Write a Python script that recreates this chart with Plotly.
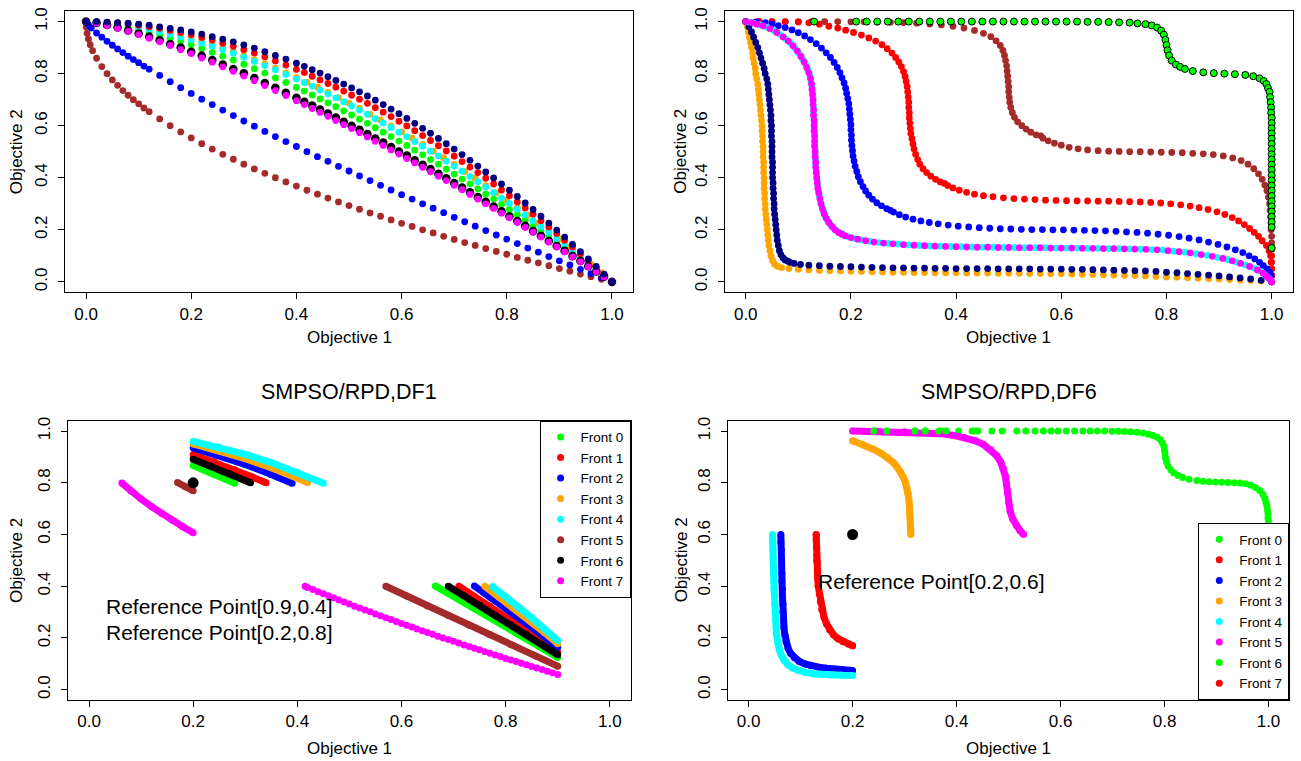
import plotly.graph_objects as go

FONT = "Liberation Sans, Arial, Helvetica, sans-serif"

# ---------------- axis ticks / texts ----------------
TICK_VALS = [0.0, 0.2, 0.4, 0.6, 0.8, 1.0]
TICK_TEXT = ["0.0", "0.2", "0.4", "0.6", "0.8", "1.0"]
AXIS_RANGE = [-0.04, 1.04]
AXIS_X_LABEL = "Objective 1"
AXIS_Y_LABEL = "Objective 2"
TITLES = ["SMPSO/RPD,DF1", "SMPSO/RPD,DF6"]
FRONT_NAMES = ["Front 0", "Front 1", "Front 2", "Front 3", "Front 4", "Front 5", "Front 6", "Front 7"]

# ---------------- top-left panel (DF1 fronts) ----------------
TL_X = [0.00, 0.02, 0.04, 0.06, 0.08, 0.10, 0.12, 0.14, 0.16, 0.18, 0.20, 0.22, 0.24, 0.26, 0.28, 0.30,
        0.32, 0.34, 0.36, 0.38, 0.40,
        0.415, 0.43, 0.445, 0.46, 0.475, 0.49, 0.505, 0.52, 0.535, 0.55, 0.565, 0.58, 0.595, 0.61,
        0.625, 0.64, 0.655, 0.67, 0.685, 0.70, 0.715, 0.73, 0.745, 0.76, 0.775, 0.79, 0.805, 0.82,
        0.835, 0.85, 0.865, 0.88, 0.895, 0.91, 0.925, 0.94, 0.955, 0.97, 0.985, 1.00]
TL_NAVY_Y = [1.000, 1.000, 0.998, 0.996, 0.994, 0.990, 0.986, 0.980, 0.974, 0.968, 0.960, 0.952, 0.942,
             0.932, 0.922, 0.910, 0.898, 0.884, 0.870, 0.856, 0.840,
             0.828, 0.815, 0.802, 0.788, 0.774, 0.760, 0.745, 0.730, 0.714, 0.698, 0.681, 0.664, 0.646,
             0.628, 0.609, 0.590, 0.571, 0.551, 0.531, 0.510, 0.489, 0.467, 0.445, 0.422, 0.399, 0.376,
             0.352, 0.328, 0.303, 0.278, 0.252, 0.226, 0.199, 0.172, 0.144, 0.116, 0.088, 0.059, 0.030,
             0.000]
TL_RED_Y = [1.000, 0.999, 0.997, 0.995, 0.991, 0.986, 0.980, 0.974, 0.966, 0.958, 0.949, 0.939, 0.929,
            0.917, 0.905, 0.892, 0.879, 0.864, 0.849, 0.833, 0.816,
            0.804, 0.790, 0.776, 0.762, 0.748, 0.733, 0.717, 0.702, 0.686, 0.669, 0.652, 0.635, 0.617,
            0.599, 0.581, 0.562, 0.543, 0.523, 0.503, 0.483, 0.462, 0.441, 0.420, 0.398, 0.376, 0.353,
            0.331, 0.307, 0.284, 0.260, 0.235, 0.211, 0.186, 0.160, 0.134, 0.108, 0.082, 0.055, 0.028,
            0.000]
TL_CYAN_Y = [1.000, 0.998, 0.995, 0.990, 0.985, 0.978, 0.970, 0.961, 0.951, 0.941, 0.930, 0.918, 0.905,
             0.892, 0.878, 0.863, 0.847, 0.831, 0.815, 0.797, 0.779,
             0.766, 0.752, 0.737, 0.722, 0.707, 0.692, 0.676, 0.660, 0.644, 0.627, 0.610, 0.593, 0.575,
             0.558, 0.539, 0.521, 0.502, 0.484, 0.464, 0.445, 0.425, 0.405, 0.385, 0.364, 0.343, 0.322,
             0.301, 0.279, 0.257, 0.235, 0.213, 0.190, 0.167, 0.144, 0.121, 0.097, 0.073, 0.049, 0.025,
             0.000]
TL_GREEN_Y = [1.000, 0.997, 0.992, 0.985, 0.977, 0.968, 0.958, 0.948, 0.936, 0.924, 0.911, 0.897, 0.882,
              0.867, 0.852, 0.836, 0.819, 0.802, 0.784, 0.766, 0.747,
              0.733, 0.718, 0.703, 0.688, 0.673, 0.657, 0.641, 0.625, 0.609, 0.592, 0.575, 0.558, 0.541,
              0.524, 0.506, 0.488, 0.470, 0.452, 0.433, 0.414, 0.395, 0.376, 0.357, 0.337, 0.318, 0.298,
              0.278, 0.258, 0.237, 0.216, 0.195, 0.175, 0.153, 0.132, 0.110, 0.089, 0.067, 0.045, 0.022,
              0.000]
TL_BLACK_Y = [1.000, 0.995, 0.987, 0.977, 0.966, 0.954, 0.942, 0.928, 0.914, 0.900, 0.884, 0.869, 0.852,
              0.835, 0.818, 0.801, 0.783, 0.764, 0.746, 0.726, 0.707,
              0.692, 0.677, 0.662, 0.647, 0.631, 0.615, 0.600, 0.584, 0.568, 0.551, 0.535, 0.518, 0.501,
              0.485, 0.467, 0.450, 0.433, 0.415, 0.398, 0.380, 0.362, 0.344, 0.326, 0.308, 0.289, 0.271,
              0.252, 0.234, 0.215, 0.195, 0.177, 0.157, 0.138, 0.119, 0.099, 0.080, 0.060, 0.040, 0.020,
              0.000]
TL_MAGENTA_Y = [1.000, 0.994, 0.985, 0.974, 0.962, 0.950, 0.936, 0.922, 0.908, 0.892, 0.877, 0.860, 0.844,
                0.826, 0.809, 0.791, 0.773, 0.754, 0.735, 0.716, 0.696,
                0.681, 0.666, 0.651, 0.636, 0.620, 0.604, 0.589, 0.573, 0.557, 0.540, 0.524, 0.507, 0.491,
                0.474, 0.457, 0.440, 0.423, 0.406, 0.389, 0.371, 0.354, 0.336, 0.318, 0.300, 0.282, 0.264,
                0.246, 0.228, 0.209, 0.191, 0.172, 0.153, 0.134, 0.115, 0.096, 0.077, 0.058, 0.039, 0.019,
                0.000]
TL_ORANGE_X = [0.00, 0.02, 0.04, 0.06, 0.08, 0.10, 0.12, 0.14, 0.16, 0.18, 0.20, 0.22, 0.24, 0.26, 0.28,
               0.30, 0.32, 0.34, 0.36, 0.38, 0.40, 0.42, 0.44, 0.46, 0.48, 0.50, 0.52, 0.54, 0.56, 0.58,
               0.60, 0.62, 0.64, 0.66, 0.68, 0.70, 0.72, 0.74, 0.76, 0.78, 0.80, 0.82, 0.84, 0.86, 0.88,
               0.90, 0.92, 0.94, 0.96, 0.98, 1.00]
TL_ORANGE_Y = [1.000, 0.999, 0.996, 0.992, 0.988, 0.982, 0.975, 0.966, 0.956, 0.946, 0.935, 0.923, 0.911,
               0.898, 0.884, 0.869, 0.853, 0.837, 0.821, 0.803, 0.785, 0.767, 0.748, 0.728, 0.708, 0.687,
               0.666, 0.644, 0.622, 0.599, 0.576, 0.552, 0.527, 0.502, 0.477, 0.451, 0.424, 0.398, 0.370,
               0.342, 0.314, 0.285, 0.256, 0.226, 0.196, 0.165, 0.134, 0.101, 0.068, 0.035, 0.000]
TL_BLUE_X = [0.00, 0.005, 0.01, 0.02, 0.03, 0.04, 0.05, 0.06, 0.07, 0.08, 0.09, 0.10, 0.11, 0.12, 0.14,
             0.16, 0.18, 0.20, 0.22, 0.24, 0.26, 0.28, 0.30, 0.32, 0.34, 0.36, 0.38, 0.40, 0.42, 0.44,
             0.46, 0.48, 0.50, 0.52, 0.54, 0.56, 0.58, 0.60, 0.62, 0.64, 0.66, 0.68, 0.70, 0.72, 0.74,
             0.76, 0.78, 0.80, 0.82, 0.84, 0.86, 0.88, 0.90, 0.92, 0.94, 0.96, 0.98, 1.00]
TL_BLUE_Y = [1.000, 0.986, 0.975, 0.956, 0.940, 0.924, 0.909, 0.895, 0.881, 0.867, 0.854, 0.842, 0.829,
             0.817, 0.793, 0.769, 0.746, 0.724, 0.702, 0.681, 0.660, 0.639, 0.618, 0.598, 0.578, 0.558,
             0.539, 0.520, 0.500, 0.481, 0.463, 0.444, 0.426, 0.407, 0.389, 0.371, 0.353, 0.335, 0.318,
             0.300, 0.283, 0.266, 0.248, 0.231, 0.214, 0.197, 0.180, 0.164, 0.147, 0.130, 0.114, 0.097,
             0.081, 0.065, 0.048, 0.032, 0.016, 0.000]
TL_BROWN_X = [0.0, 0.0005, 0.002, 0.0045, 0.008, 0.0125, 0.02, 0.03, 0.04, 0.05, 0.06, 0.07, 0.08, 0.09,
              0.10, 0.11, 0.12, 0.14, 0.16, 0.18, 0.20, 0.22, 0.24, 0.26, 0.28, 0.30, 0.32, 0.34, 0.36,
              0.38, 0.40, 0.42, 0.44, 0.46, 0.48, 0.50, 0.52, 0.54, 0.56, 0.58, 0.60, 0.62, 0.64, 0.66,
              0.68, 0.70, 0.72, 0.74, 0.76, 0.78, 0.80, 0.82, 0.84, 0.86, 0.88, 0.90, 0.92, 0.94, 0.96,
              0.98, 1.00]
TL_BROWN_Y = [1.000, 0.978, 0.955, 0.933, 0.911, 0.888, 0.859, 0.827, 0.800, 0.776, 0.755, 0.735, 0.717,
              0.700, 0.684, 0.668, 0.654, 0.626, 0.600, 0.576, 0.553, 0.531, 0.510, 0.490, 0.471, 0.452,
              0.434, 0.417, 0.400, 0.384, 0.368, 0.352, 0.337, 0.322, 0.307, 0.293, 0.279, 0.265, 0.252,
              0.238, 0.225, 0.213, 0.200, 0.188, 0.175, 0.163, 0.151, 0.140, 0.128, 0.117, 0.106, 0.094,
              0.083, 0.073, 0.062, 0.051, 0.041, 0.030, 0.020, 0.010, 0.000]

# ---------------- top-right panel (DF6 fronts), (x, y) points ----------------
TR_GREEN = [(0.13, 1.0), (0.21, 1.0), (0.23, 1.0), (0.25, 1.0), (0.27, 1.0), (0.29, 1.0), (0.31, 1.0),
            (0.33, 1.0), (0.35, 1.0), (0.37, 1.0), (0.39, 1.0), (0.41, 1.0), (0.43, 1.0), (0.45, 1.0),
            (0.47, 1.0), (0.49, 1.0), (0.51, 1.0), (0.53, 1.0), (0.55, 1.0), (0.57, 1.0), (0.59, 1.0),
            (0.61, 1.0), (0.63, 1.0), (0.65, 0.999), (0.67, 0.999), (0.69, 0.998), (0.71, 0.997),
            (0.73, 0.996), (0.745, 0.993), (0.76, 0.99), (0.772, 0.985), (0.782, 0.977), (0.79, 0.965),
            (0.795, 0.95), (0.798, 0.93), (0.80, 0.91), (0.802, 0.89), (0.805, 0.87), (0.81, 0.85),
            (0.818, 0.835), (0.826, 0.826), (0.835, 0.818), (0.85, 0.81), (0.87, 0.805), (0.89, 0.802),
            (0.91, 0.80), (0.93, 0.798), (0.95, 0.795), (0.965, 0.79), (0.977, 0.782), (0.985, 0.772),
            (0.99, 0.76), (0.993, 0.745), (0.996, 0.73), (0.997, 0.71), (0.998, 0.69), (0.999, 0.67),
            (0.999, 0.65), (1.0, 0.63), (1.0, 0.61), (1.0, 0.59), (1.0, 0.57), (1.0, 0.55), (1.0, 0.53),
            (1.0, 0.51), (1.0, 0.49), (1.0, 0.47), (1.0, 0.45), (1.0, 0.43), (1.0, 0.41), (1.0, 0.39),
            (1.0, 0.37), (1.0, 0.35), (1.0, 0.33), (1.0, 0.31), (1.0, 0.29), (1.0, 0.27), (1.0, 0.25),
            (1.0, 0.23), (1.0, 0.21), (1.0, 0.13)]
TR_BROWN = [(0.0, 1.0), (0.025, 1.0), (0.05, 1.0), (0.075, 1.0), (0.1, 1.0), (0.125, 1.0), (0.15, 1.0),
            (0.175, 1.0), (0.2, 0.999), (0.225, 0.999), (0.25, 0.998), (0.275, 0.997), (0.3, 0.996),
            (0.325, 0.994), (0.35, 0.991), (0.372, 0.987), (0.394, 0.982), (0.415, 0.975), (0.435, 0.966),
            (0.452, 0.955), (0.466, 0.942), (0.476, 0.926), (0.484, 0.908), (0.489, 0.889), (0.492, 0.87),
            (0.494, 0.85), (0.496, 0.83), (0.497, 0.81), (0.498, 0.79), (0.499, 0.77), (0.5, 0.75),
            (0.5, 0.73), (0.501, 0.71), (0.502, 0.69), (0.504, 0.67), (0.507, 0.65), (0.511, 0.632),
            (0.517, 0.615), (0.525, 0.6), (0.533, 0.587), (0.542, 0.575), (0.552, 0.565), (0.561, 0.561),
            (0.565, 0.552), (0.575, 0.542), (0.587, 0.533), (0.6, 0.525), (0.615, 0.517), (0.632, 0.511),
            (0.65, 0.507), (0.67, 0.504), (0.69, 0.502), (0.71, 0.501), (0.73, 0.5), (0.75, 0.5),
            (0.77, 0.499), (0.79, 0.498), (0.81, 0.497), (0.83, 0.496), (0.85, 0.494), (0.87, 0.492),
            (0.889, 0.489), (0.908, 0.484), (0.926, 0.476), (0.942, 0.466), (0.955, 0.452), (0.966, 0.435),
            (0.975, 0.415), (0.982, 0.394), (0.987, 0.372), (0.991, 0.35), (0.994, 0.325), (0.996, 0.3),
            (0.997, 0.275), (0.998, 0.25), (0.999, 0.225), (0.999, 0.2), (1.0, 0.175), (1.0, 0.15),
            (1.0, 0.125), (1.0, 0.1), (1.0, 0.075), (1.0, 0.05), (1.0, 0.025), (1.0, 0.0)]
TR_RED = [(0.0, 1.0), (0.025, 1.0), (0.05, 1.0), (0.075, 0.999), (0.1, 0.998), (0.12, 0.995), (0.14, 0.99),
          (0.158, 0.982), (0.175, 0.975), (0.19, 0.967), (0.205, 0.958), (0.22, 0.948), (0.234, 0.937),
          (0.247, 0.925), (0.259, 0.911), (0.269, 0.896), (0.278, 0.879), (0.285, 0.862), (0.291, 0.845),
          (0.296, 0.827), (0.3, 0.808), (0.303, 0.789), (0.305, 0.77), (0.307, 0.75), (0.308, 0.73),
          (0.309, 0.71), (0.31, 0.69), (0.31, 0.67), (0.311, 0.65), (0.311, 0.63), (0.312, 0.61),
          (0.313, 0.59), (0.314, 0.57), (0.316, 0.55), (0.318, 0.53), (0.32, 0.51), (0.323, 0.49),
          (0.327, 0.47), (0.331, 0.452), (0.337, 0.435), (0.344, 0.42), (0.352, 0.406), (0.361, 0.394),
          (0.37, 0.384), (0.378, 0.378), (0.384, 0.37), (0.394, 0.361), (0.406, 0.352), (0.42, 0.344),
          (0.435, 0.337), (0.452, 0.331), (0.47, 0.327), (0.49, 0.323), (0.51, 0.32), (0.53, 0.318),
          (0.55, 0.316), (0.57, 0.314), (0.59, 0.313), (0.61, 0.312), (0.63, 0.311), (0.65, 0.311),
          (0.67, 0.31), (0.69, 0.31), (0.71, 0.309), (0.73, 0.308), (0.75, 0.307), (0.77, 0.305),
          (0.789, 0.303), (0.808, 0.3), (0.827, 0.296), (0.845, 0.291), (0.862, 0.285), (0.879, 0.278),
          (0.896, 0.269), (0.911, 0.259), (0.925, 0.247), (0.937, 0.234), (0.948, 0.22), (0.958, 0.205),
          (0.967, 0.19), (0.975, 0.175), (0.982, 0.158), (0.99, 0.14), (0.995, 0.12), (0.998, 0.1),
          (0.999, 0.075), (1.0, 0.05), (1.0, 0.025), (1.0, 0.0)]
TR_BLUE = [(0.0, 1.0), (0.02, 0.999), (0.037, 0.996), (0.05, 0.991), (0.062, 0.984), (0.075, 0.977),
           (0.088, 0.968), (0.1, 0.957), (0.112, 0.945), (0.123, 0.931), (0.134, 0.915), (0.144, 0.898),
           (0.153, 0.88), (0.161, 0.862), (0.168, 0.843), (0.174, 0.824), (0.179, 0.804), (0.183, 0.784),
           (0.187, 0.764), (0.19, 0.744), (0.192, 0.724), (0.194, 0.704), (0.196, 0.684), (0.197, 0.664),
           (0.198, 0.644), (0.199, 0.624), (0.2, 0.604), (0.2, 0.584), (0.201, 0.564), (0.201, 0.544),
           (0.202, 0.524), (0.203, 0.504), (0.204, 0.484), (0.206, 0.464), (0.208, 0.444), (0.211, 0.424),
           (0.214, 0.404), (0.218, 0.385), (0.223, 0.366), (0.228, 0.349), (0.234, 0.333), (0.241, 0.318),
           (0.249, 0.304), (0.258, 0.292), (0.268, 0.281), (0.275, 0.275), (0.281, 0.268), (0.292, 0.258),
           (0.304, 0.249), (0.318, 0.241), (0.333, 0.234), (0.349, 0.228), (0.366, 0.223), (0.385, 0.218),
           (0.404, 0.214), (0.424, 0.211), (0.444, 0.208), (0.464, 0.206), (0.484, 0.204), (0.504, 0.203),
           (0.524, 0.202), (0.544, 0.201), (0.564, 0.201), (0.584, 0.2), (0.604, 0.2), (0.624, 0.199),
           (0.644, 0.198), (0.664, 0.197), (0.684, 0.196), (0.704, 0.194), (0.724, 0.192), (0.744, 0.19),
           (0.764, 0.187), (0.784, 0.183), (0.804, 0.179), (0.824, 0.174), (0.843, 0.168), (0.862, 0.161),
           (0.88, 0.153), (0.898, 0.144), (0.915, 0.134), (0.931, 0.123), (0.945, 0.112), (0.957, 0.1),
           (0.968, 0.088), (0.977, 0.075), (0.984, 0.062), (0.991, 0.05), (0.996, 0.037), (0.999, 0.02),
           (1.0, 0.0)]
TR_CYAN = [(0.005, 0.999), (0.016, 0.993), (0.027, 0.987), (0.04, 0.979), (0.053, 0.966), (0.065, 0.95),
           (0.076, 0.933), (0.086, 0.916), (0.094, 0.897), (0.102, 0.877), (0.108, 0.856), (0.114, 0.835),
           (0.118, 0.814), (0.122, 0.793), (0.124, 0.772), (0.126, 0.751), (0.127, 0.73), (0.128, 0.71),
           (0.128, 0.69), (0.129, 0.67), (0.129, 0.65), (0.13, 0.63), (0.13, 0.61), (0.13, 0.59),
           (0.131, 0.57), (0.131, 0.55), (0.131, 0.53), (0.132, 0.51), (0.132, 0.49), (0.133, 0.47),
           (0.133, 0.45), (0.134, 0.43), (0.135, 0.41), (0.136, 0.39), (0.137, 0.37), (0.138, 0.35),
           (0.14, 0.33), (0.142, 0.31), (0.145, 0.29), (0.148, 0.271), (0.151, 0.253), (0.156, 0.236),
           (0.161, 0.22), (0.167, 0.206), (0.174, 0.194), (0.181, 0.186), (0.186, 0.181), (0.194, 0.174),
           (0.206, 0.167), (0.22, 0.161), (0.236, 0.156), (0.253, 0.151), (0.271, 0.148), (0.29, 0.145),
           (0.31, 0.142), (0.33, 0.14), (0.35, 0.138), (0.37, 0.137), (0.39, 0.136), (0.41, 0.135),
           (0.43, 0.134), (0.45, 0.133), (0.47, 0.133), (0.49, 0.132), (0.51, 0.132), (0.53, 0.131),
           (0.55, 0.131), (0.57, 0.131), (0.59, 0.13), (0.61, 0.13), (0.63, 0.13), (0.65, 0.129),
           (0.67, 0.129), (0.69, 0.128), (0.71, 0.128), (0.73, 0.127), (0.751, 0.126), (0.772, 0.124),
           (0.793, 0.122), (0.814, 0.118), (0.835, 0.114), (0.856, 0.108), (0.877, 0.102), (0.897, 0.094),
           (0.916, 0.086), (0.933, 0.076), (0.95, 0.065), (0.966, 0.053), (0.979, 0.04), (0.987, 0.027),
           (0.993, 0.016), (0.999, 0.005)]
TR_MAGENTA = [(0.0, 1.0), (0.011, 0.996), (0.021, 0.99), (0.033, 0.984), (0.046, 0.973), (0.059, 0.958),
              (0.071, 0.941), (0.081, 0.925), (0.09, 0.907), (0.098, 0.887), (0.105, 0.866), (0.111, 0.845),
              (0.116, 0.824), (0.12, 0.803), (0.123, 0.782), (0.125, 0.761), (0.126, 0.74), (0.127, 0.72),
              (0.128, 0.7), (0.128, 0.68), (0.129, 0.66), (0.129, 0.64), (0.13, 0.62), (0.13, 0.6),
              (0.13, 0.58), (0.131, 0.56), (0.131, 0.54), (0.131, 0.52), (0.132, 0.5), (0.132, 0.48),
              (0.133, 0.46), (0.133, 0.44), (0.134, 0.42), (0.135, 0.4), (0.136, 0.38), (0.137, 0.36),
              (0.139, 0.34), (0.141, 0.32), (0.143, 0.3), (0.146, 0.28), (0.149, 0.262), (0.153, 0.244),
              (0.158, 0.228), (0.164, 0.213), (0.17, 0.2), (0.177, 0.189), (0.183, 0.183), (0.189, 0.177),
              (0.2, 0.17), (0.213, 0.164), (0.228, 0.158), (0.244, 0.153), (0.262, 0.149), (0.28, 0.146),
              (0.3, 0.143), (0.32, 0.141), (0.34, 0.139), (0.36, 0.137), (0.38, 0.136), (0.4, 0.135),
              (0.42, 0.134), (0.44, 0.133), (0.46, 0.133), (0.48, 0.132), (0.5, 0.132), (0.52, 0.131),
              (0.54, 0.131), (0.56, 0.131), (0.58, 0.13), (0.6, 0.13), (0.62, 0.13), (0.64, 0.129),
              (0.66, 0.129), (0.68, 0.128), (0.7, 0.128), (0.72, 0.127), (0.74, 0.126), (0.761, 0.125),
              (0.782, 0.123), (0.803, 0.12), (0.824, 0.116), (0.845, 0.111), (0.866, 0.105), (0.887, 0.098),
              (0.907, 0.09), (0.925, 0.081), (0.941, 0.071), (0.958, 0.059), (0.973, 0.046), (0.984, 0.033),
              (0.99, 0.021), (0.996, 0.011), (1.0, 0.0)]
TR_NAVY = [(0.0, 1.0), (0.006, 0.98), (0.011, 0.96), (0.015, 0.94), (0.019, 0.92), (0.023, 0.90),
           (0.026, 0.88), (0.029, 0.86), (0.032, 0.84), (0.035, 0.82), (0.037, 0.80), (0.040, 0.78),
           (0.042, 0.76), (0.043, 0.74), (0.044, 0.72), (0.045, 0.70), (0.046, 0.68), (0.047, 0.66),
           (0.048, 0.64), (0.048, 0.62), (0.049, 0.60), (0.049, 0.58), (0.049, 0.56), (0.050, 0.54),
           (0.050, 0.52), (0.050, 0.50), (0.050, 0.48), (0.051, 0.46), (0.051, 0.44), (0.051, 0.42),
           (0.051, 0.40), (0.052, 0.38), (0.052, 0.36), (0.053, 0.34), (0.053, 0.32), (0.054, 0.30),
           (0.054, 0.28), (0.055, 0.26), (0.056, 0.24), (0.057, 0.22), (0.058, 0.20), (0.059, 0.18),
           (0.060, 0.16), (0.062, 0.14), (0.064, 0.12), (0.067, 0.104), (0.071, 0.092), (0.075, 0.084),
           (0.08, 0.08), (0.084, 0.075), (0.092, 0.071), (0.104, 0.067), (0.12, 0.064), (0.14, 0.062),
           (0.16, 0.060), (0.18, 0.059), (0.20, 0.058), (0.22, 0.057), (0.24, 0.056), (0.26, 0.055),
           (0.28, 0.054), (0.30, 0.054), (0.32, 0.053), (0.34, 0.053), (0.36, 0.052), (0.38, 0.052),
           (0.40, 0.051), (0.42, 0.051), (0.44, 0.051), (0.46, 0.051), (0.48, 0.050), (0.50, 0.050),
           (0.52, 0.050), (0.54, 0.050), (0.56, 0.049), (0.58, 0.049), (0.60, 0.049), (0.62, 0.048),
           (0.64, 0.048), (0.66, 0.047), (0.68, 0.046), (0.70, 0.045), (0.72, 0.044), (0.74, 0.043),
           (0.76, 0.042), (0.78, 0.040), (0.80, 0.037), (0.82, 0.035), (0.84, 0.032), (0.86, 0.029),
           (0.88, 0.026), (0.90, 0.023), (0.92, 0.019), (0.94, 0.015), (0.96, 0.011), (0.98, 0.006),
           (1.0, 0.0)]
TR_ORANGE = [(0.0, 1.0), (0.003, 0.98), (0.005, 0.96), (0.007, 0.94), (0.009, 0.92), (0.011, 0.90),
             (0.013, 0.88), (0.014, 0.86), (0.016, 0.84), (0.018, 0.82), (0.019, 0.80), (0.021, 0.78),
             (0.023, 0.76), (0.024, 0.74), (0.025, 0.72), (0.026, 0.70), (0.027, 0.68), (0.028, 0.66),
             (0.029, 0.64), (0.030, 0.62), (0.031, 0.60), (0.031, 0.58), (0.032, 0.56), (0.032, 0.54),
             (0.033, 0.52), (0.033, 0.50), (0.033, 0.48), (0.034, 0.46), (0.034, 0.44), (0.034, 0.42),
             (0.035, 0.40), (0.035, 0.38), (0.035, 0.36), (0.036, 0.34), (0.036, 0.32), (0.037, 0.30),
             (0.037, 0.28), (0.038, 0.26), (0.039, 0.24), (0.040, 0.22), (0.041, 0.20), (0.042, 0.18),
             (0.043, 0.16), (0.044, 0.14), (0.046, 0.12), (0.048, 0.10), (0.051, 0.082), (0.055, 0.068),
             (0.06, 0.06), (0.068, 0.055), (0.082, 0.051), (0.10, 0.048), (0.12, 0.046), (0.14, 0.044),
             (0.16, 0.043), (0.18, 0.042), (0.20, 0.041), (0.22, 0.040), (0.24, 0.039), (0.26, 0.038),
             (0.28, 0.037), (0.30, 0.037), (0.32, 0.036), (0.34, 0.036), (0.36, 0.035), (0.38, 0.035),
             (0.40, 0.035), (0.42, 0.034), (0.44, 0.034), (0.46, 0.034), (0.48, 0.033), (0.50, 0.033),
             (0.52, 0.033), (0.54, 0.032), (0.56, 0.032), (0.58, 0.031), (0.60, 0.031), (0.62, 0.030),
             (0.64, 0.029), (0.66, 0.028), (0.68, 0.027), (0.70, 0.026), (0.72, 0.025), (0.74, 0.024),
             (0.76, 0.023), (0.78, 0.021), (0.80, 0.019), (0.82, 0.018), (0.84, 0.016), (0.86, 0.014),
             (0.88, 0.013), (0.90, 0.011), (0.92, 0.009), (0.94, 0.007), (0.96, 0.005), (0.98, 0.003),
             (1.0, 0.0)]

# ---------------- bottom-left panel (SMPSO/RPD, DF1) ----------------
BL_F0_X = [0.2, 0.24, 0.28, None, 0.665, 0.7, 0.735, 0.77, 0.8, 0.83, 0.865, 0.9]
BL_F0_Y = [0.867, 0.833, 0.798, None, 0.401, 0.361, 0.320, 0.280, 0.244, 0.208, 0.166, 0.124]
BL_F1_X = [0.2, 0.24, 0.28, 0.31, 0.34, None, 0.71, 0.74, 0.77, 0.8, 0.83, 0.86, 0.9]
BL_F1_Y = [0.909, 0.881, 0.850, 0.825, 0.800, None, 0.400, 0.361, 0.323, 0.283, 0.242, 0.201, 0.145]
BL_F2_X = [0.2, 0.25, 0.3, 0.35, 0.39, None, 0.74, 0.77, 0.8, 0.83, 0.86, 0.9]
BL_F2_Y = [0.935, 0.905, 0.871, 0.832, 0.798, None, 0.401, 0.359, 0.316, 0.271, 0.226, 0.164]
BL_F3_X = [0.2, 0.25, 0.3, 0.35, 0.385, 0.42, None, 0.76, 0.79, 0.82, 0.85, 0.875, 0.9]
BL_F3_Y = [0.950, 0.924, 0.893, 0.858, 0.831, 0.801, None, 0.400, 0.355, 0.309, 0.261, 0.220, 0.178]
BL_F4_X = [0.2, 0.25, 0.3, 0.35, 0.4, 0.45, None, 0.775, 0.8, 0.825, 0.85, 0.875, 0.9]
BL_F4_Y = [0.960, 0.938, 0.910, 0.878, 0.840, 0.798, None, 0.399, 0.360, 0.319, 0.278, 0.234, 0.190]
BL_F5_X = [0.17, 0.185, 0.2, None, 0.57, 0.61, 0.65, 0.69, 0.73, 0.77, 0.81, 0.86, 0.9]
BL_F5_Y = [0.801, 0.785, 0.769, None, 0.400, 0.362, 0.324, 0.287, 0.249, 0.212, 0.174, 0.128, 0.091]
BL_F6_X = [0.2, 0.235, 0.27, 0.31, None, 0.69, 0.72, 0.75, 0.78, 0.81, 0.84, 0.87, 0.9]
BL_F6_Y = [0.891, 0.864, 0.835, 0.800, None, 0.400, 0.363, 0.327, 0.289, 0.251, 0.213, 0.174, 0.135]
BL_F7_UP_X = [0.063, 0.08, 0.1, 0.12, 0.14, 0.16, 0.18, 0.2]
BL_F7_UP_Y = [0.799, 0.769, 0.737, 0.708, 0.680, 0.655, 0.630, 0.607]
BL_F7_LOW_X = [0.415, 0.42, 0.43, 0.44, 0.45, 0.46, 0.47, 0.48, 0.49, 0.50, 0.51, 0.52, 0.53, 0.54, 0.55,
               0.56, 0.57, 0.58, 0.59, 0.60, 0.61, 0.62, 0.63, 0.64, 0.65, 0.66, 0.67, 0.68, 0.69, 0.70,
               0.71, 0.72, 0.73, 0.74, 0.75, 0.76, 0.77, 0.78, 0.79, 0.80, 0.81, 0.82, 0.83, 0.84, 0.85,
               0.86, 0.87, 0.88, 0.89, 0.90]
BL_F7_LOW_Y = [0.400, 0.395, 0.387, 0.379, 0.371, 0.363, 0.355, 0.347, 0.339, 0.331, 0.323, 0.316, 0.308,
               0.301, 0.293, 0.286, 0.278, 0.271, 0.264, 0.256, 0.249, 0.242, 0.235, 0.228, 0.221, 0.214,
               0.207, 0.200, 0.194, 0.187, 0.180, 0.173, 0.167, 0.160, 0.154, 0.147, 0.141, 0.134, 0.128,
               0.121, 0.115, 0.109, 0.102, 0.096, 0.090, 0.084, 0.078, 0.071, 0.065, 0.059]
BL_REF_X = [0.9, 0.2]
BL_REF_Y = [0.4, 0.8]
BL_TEXT = ["Reference Point[0.9,0.4]", "Reference Point[0.2,0.8]"]
BL_TEXT_X = [0.25, 0.25]
BL_TEXT_Y = [0.32, 0.22]

# ---------------- bottom-right panel (SMPSO/RPD, DF6), (x, y) points ----------------
BR_F0 = [(0.241, 1.0), (0.266, 1.0), (0.32, 1.0), (0.34, 1.0), (0.372, 1.0), (0.404, 1.0), (0.436, 1.0),
         (0.468, 1.0), (0.488, 1.0), (0.516, 1.0), (0.533, 1.0), (0.551, 1.0), (0.567, 1.0), (0.582, 1.0),
         (0.595, 1.0), (0.611, 1.0), (0.627, 1.0), (0.643, 1.0), (0.657, 1.0), (0.671, 1.0), (0.685, 1.0),
         (0.699, 0.999), (0.711, 0.999), (0.723, 0.998), (0.735, 0.997), (0.747, 0.995), (0.759, 0.992),
         (0.769, 0.988), (0.778, 0.983), (0.786, 0.976), (0.792, 0.966), (0.796, 0.954), (0.799, 0.94),
         (0.8, 0.925), (0.801, 0.91), (0.802, 0.895), (0.804, 0.88), (0.807, 0.865), (0.812, 0.85),
         (0.818, 0.838), (0.826, 0.828), (0.835, 0.82), (0.847, 0.814), (0.862, 0.809), (0.874, 0.806),
         (0.886, 0.804), (0.898, 0.803), (0.91, 0.802), (0.922, 0.801), (0.934, 0.8), (0.946, 0.799),
         (0.956, 0.796), (0.966, 0.79), (0.975, 0.782), (0.983, 0.77), (0.989, 0.756), (0.993, 0.74),
         (0.995, 0.725), (0.997, 0.71), (0.998, 0.695), (0.999, 0.68), (0.999, 0.665), (1.0, 0.65),
         (1.0, 0.635), (1.0, 0.62), (1.0, 0.605)]
BR_F1 = [(0.13, 0.6), (0.13, 0.58), (0.131, 0.55), (0.131, 0.52), (0.132, 0.49), (0.133, 0.46),
         (0.133, 0.43), (0.134, 0.40), (0.136, 0.37), (0.138, 0.34), (0.141, 0.31), (0.145, 0.28),
         (0.15, 0.254), (0.156, 0.232), (0.163, 0.213), (0.172, 0.197), (0.182, 0.185), (0.192, 0.176),
         (0.2, 0.17)]
BR_F2 = [(0.062, 0.6), (0.062, 0.57), (0.063, 0.54), (0.063, 0.51), (0.063, 0.48), (0.064, 0.45),
         (0.064, 0.42), (0.065, 0.39), (0.065, 0.36), (0.066, 0.33), (0.066, 0.30), (0.067, 0.27),
         (0.068, 0.24), (0.07, 0.21), (0.072, 0.185), (0.076, 0.16), (0.081, 0.14), (0.088, 0.123),
         (0.097, 0.11), (0.108, 0.1), (0.12, 0.093), (0.135, 0.087), (0.15, 0.083), (0.165, 0.08),
         (0.18, 0.077), (0.2, 0.074)]
BR_F3 = [(0.2, 0.962), (0.22, 0.948), (0.24, 0.93), (0.255, 0.914), (0.268, 0.897), (0.278, 0.879),
         (0.286, 0.86), (0.293, 0.84), (0.298, 0.82), (0.302, 0.8), (0.305, 0.78), (0.307, 0.76),
         (0.308, 0.74), (0.309, 0.72), (0.31, 0.7), (0.31, 0.68), (0.311, 0.66), (0.311, 0.64),
         (0.312, 0.62), (0.312, 0.6)]
BR_F4 = [(0.046, 0.6), (0.046, 0.57), (0.047, 0.54), (0.047, 0.51), (0.048, 0.48), (0.048, 0.45),
         (0.049, 0.42), (0.049, 0.39), (0.05, 0.36), (0.05, 0.33), (0.051, 0.3), (0.052, 0.27),
         (0.053, 0.24), (0.054, 0.21), (0.056, 0.18), (0.059, 0.155), (0.063, 0.133), (0.068, 0.113),
         (0.075, 0.097), (0.084, 0.084), (0.095, 0.074), (0.11, 0.066), (0.125, 0.062), (0.14, 0.059),
         (0.16, 0.057), (0.18, 0.056), (0.2, 0.055)]
BR_F5 = [(0.2, 1.0), (0.25, 0.999), (0.3, 0.997), (0.34, 0.994), (0.37, 0.99), (0.395, 0.983),
         (0.415, 0.975), (0.435, 0.963), (0.452, 0.948), (0.466, 0.928), (0.477, 0.905), (0.485, 0.88),
         (0.49, 0.855), (0.494, 0.825), (0.496, 0.795), (0.498, 0.76), (0.5, 0.725), (0.503, 0.69),
         (0.508, 0.66), (0.515, 0.635), (0.522, 0.615), (0.529, 0.6)]
BR_F6 = [(0.241, 1.0), (0.266, 1.0), (0.32, 1.0), (0.34, 1.0), (0.366, 1.0), (0.38, 1.0), (0.43, 1.0),
         (0.441, 1.0)]
BR_F7 = [(0.13, 0.6), (0.131, 0.5), (0.134, 0.4), (0.141, 0.31), (0.156, 0.232), (0.182, 0.185),
         (0.2, 0.17)]
BR_REF_X = [0.2]
BR_REF_Y = [0.6]
BR_TEXT = ["Reference Point[0.2,0.6]"]
BR_TEXT_X = [0.35]
BR_TEXT_Y = [0.42]

# ---------------- styling ----------------
GREEN, RED, BLUE, ORANGE = "#00FF00", "#FF0000", "#0000FF", "#FFA500"
CYAN, BROWN, BLACK, MAGENTA, NAVY = "#00FFFF", "#A52A2A", "#000000", "#FF00FF", "#000080"
BL_COLORS = [GREEN, RED, BLUE, ORANGE, CYAN, BROWN, BLACK, MAGENTA]
BR_COLORS = [GREEN, RED, BLUE, ORANGE, CYAN, MAGENTA, GREEN, RED]

W, H = 1301, 761
# plot boxes in pixels: (left, right, top, bottom)
BOX_TL = (65, 633, 7.2, 289.8)
BOX_TR = (724.7, 1292.7, 7.2, 289.8)
BOX_BL = (68.2, 630.6, 418.9, 699.7)
BOX_BR = (727.8, 1289.3, 418.9, 699.7)


def px_x(v):
    return v / W


def px_y(v):
    return 1 - v / H


def col(points, i):
    return [p[i] for p in points]


fig = go.Figure()


def dots(x, y, color, ax, size=6.8, ring=None, name=None, legend=None, showlegend=False):
    marker = dict(color=color, size=size)
    marker["line"] = dict(color=ring, width=1) if ring else dict(width=0)
    fig.add_trace(go.Scatter(x=x, y=y, mode="markers", marker=marker, xaxis="x" + ax, yaxis="y" + ax,
                             name=name, showlegend=showlegend, legend=legend, hoverinfo="skip"))


def band(x, y, color, ax, width=7, legend=None):
    fig.add_trace(go.Scatter(x=x, y=y, mode="lines", line=dict(color=color, width=width),
                             xaxis="x" + ax, yaxis="y" + ax, showlegend=False, legend=legend,
                             hoverinfo="skip"))


# top-left
dots(TL_BROWN_X, TL_BROWN_Y, BROWN, "")
dots(TL_BLUE_X, TL_BLUE_Y, BLUE, "")
dots(TL_X, TL_GREEN_Y, GREEN, "")
dots(TL_ORANGE_X, TL_ORANGE_Y, ORANGE, "")
dots(TL_X, TL_CYAN_Y, CYAN, "")
dots(TL_X, TL_RED_Y, RED, "")
dots(TL_X, TL_BLACK_Y, BLACK, "", size=8.6)
dots(TL_X, TL_MAGENTA_Y, MAGENTA, "")
dots(TL_X, TL_NAVY_Y, NAVY, "")

# top-right
for pts, c in [(TR_BROWN, BROWN), (TR_RED, RED), (TR_BLUE, BLUE), (TR_ORANGE, ORANGE),
               (TR_NAVY, NAVY), (TR_CYAN, CYAN), (TR_MAGENTA, MAGENTA)]:
    dots(col(pts, 0), col(pts, 1), c, "2")
dots(col(TR_GREEN, 0), col(TR_GREEN, 1), GREEN, "2", size=7, ring=BLACK)

# bottom-left
BL_SERIES = [(BL_F0_X, BL_F0_Y), (BL_F1_X, BL_F1_Y), (BL_F2_X, BL_F2_Y), (BL_F3_X, BL_F3_Y),
             (BL_F4_X, BL_F4_Y), (BL_F5_X, BL_F5_Y), (BL_F6_X, BL_F6_Y)]
for i, (bx, by) in enumerate(BL_SERIES):
    band(bx, by, BL_COLORS[i], "3", legend="legend")
    dots(bx, by, BL_COLORS[i], "3", size=7, name=FRONT_NAMES[i], legend="legend", showlegend=True)
band(BL_F7_UP_X, BL_F7_UP_Y, BL_COLORS[7], "3", legend="legend")
dots(BL_F7_UP_X + [None] + BL_F7_LOW_X, BL_F7_UP_Y + [None] + BL_F7_LOW_Y, BL_COLORS[7], "3", size=7,
     name=FRONT_NAMES[7], legend="legend", showlegend=True)
dots(BL_REF_X, BL_REF_Y, BLACK, "3", size=11, legend="legend")

# bottom-right
BR_SERIES = [BR_F0, BR_F1, BR_F2, BR_F3, BR_F4, BR_F5, BR_F6, BR_F7]
BR_AS_BAND = [False, True, True, True, True, True, False, False]
for i, pts in enumerate(BR_SERIES):
    bx, by = col(pts, 0), col(pts, 1)
    if BR_AS_BAND[i]:
        band(bx, by, BR_COLORS[i], "4", legend="legend2")
    dots(bx, by, BR_COLORS[i], "4", size=7, name=FRONT_NAMES[i], legend="legend2", showlegend=True)
dots(BR_REF_X, BR_REF_Y, BLACK, "4", size=11, legend="legend2")


def axis(box, anchor, vertical):
    dom = [px_y(box[3]), px_y(box[2])] if vertical else [px_x(box[0]), px_x(box[1])]
    d = dict(domain=dom, anchor=anchor, range=AXIS_RANGE, tickmode="array", tickvals=TICK_VALS,
             ticktext=TICK_TEXT, showline=True, linecolor="black", linewidth=1, mirror=True,
             ticks="outside", ticklen=6, tickwidth=1, tickcolor="black", showgrid=False,
             zeroline=False, fixedrange=True,
             tickfont=dict(family=FONT, size=17, color="black"))
    if vertical:
        d.update(tickangle=-90, ticklabelstandoff=4)
    return d


annotations = []
for box, ylab_x, xlab_y in [(BOX_TL, 16.6, 335), (BOX_TR, 681, 335),
                            (BOX_BL, 16.6, 748), (BOX_BR, 681, 748)]:
    cx = (box[0] + box[1]) / 2
    cy = (box[2] + box[3]) / 2
    annotations.append(dict(text=AXIS_X_LABEL, x=px_x(cx), y=px_y(xlab_y), xref="paper", yref="paper",
                            showarrow=False, xanchor="center", yanchor="middle",
                            font=dict(family=FONT, size=17, color="black")))
    annotations.append(dict(text=AXIS_Y_LABEL, x=px_x(ylab_x), y=px_y(cy), xref="paper", yref="paper",
                            showarrow=False, xanchor="center", yanchor="middle", textangle=-90,
                            font=dict(family=FONT, size=17, color="black")))
for box, title in [(BOX_BL, TITLES[0]), (BOX_BR, TITLES[1])]:
    annotations.append(dict(text=title, x=px_x((box[0] + box[1]) / 2), y=px_y(390), xref="paper",
                            yref="paper", showarrow=False, xanchor="center", yanchor="middle",
                            font=dict(family=FONT, size=21.5, color="black")))
for t, tx, ty in zip(BL_TEXT, BL_TEXT_X, BL_TEXT_Y):
    annotations.append(dict(text=t, x=tx, y=ty, xref="x3", yref="y3", showarrow=False,
                            xanchor="center", yanchor="middle",
                            font=dict(family=FONT, size=21, color="black")))
for t, tx, ty in zip(BR_TEXT, BR_TEXT_X, BR_TEXT_Y):
    annotations.append(dict(text=t, x=tx, y=ty, xref="x4", yref="y4", showarrow=False,
                            xanchor="center", yanchor="middle",
                            font=dict(family=FONT, size=21, color="black")))

legend_common = dict(bgcolor="white", bordercolor="black", borderwidth=1,
                     font=dict(family=FONT, size=13.5, color="black"), tracegroupgap=0)

fig.update_layout(
    width=W, height=H, autosize=False,
    margin=dict(l=0, r=0, t=0, b=0, pad=0),
    paper_bgcolor="white", plot_bgcolor="white",
    hovermode=False, showlegend=True,
    xaxis=axis(BOX_TL, "y", False), yaxis=axis(BOX_TL, "x", True),
    xaxis2=axis(BOX_TR, "y2", False), yaxis2=axis(BOX_TR, "x2", True),
    xaxis3=axis(BOX_BL, "y3", False), yaxis3=axis(BOX_BL, "x3", True),
    xaxis4=axis(BOX_BR, "y4", False), yaxis4=axis(BOX_BR, "x4", True),
    legend=dict(x=px_x(BOX_BL[1]), y=px_y(BOX_BL[2]), xanchor="right", yanchor="top", **legend_common),
    legend2=dict(x=px_x(BOX_BR[1]), y=px_y(BOX_BR[3]), xanchor="right", yanchor="bottom", **legend_common),
    annotations=annotations,
)

fig.write_html("out.html", config={"displayModeBar": False},
               post_script="document.body.style.margin='0px';document.body.style.overflow='hidden';")
